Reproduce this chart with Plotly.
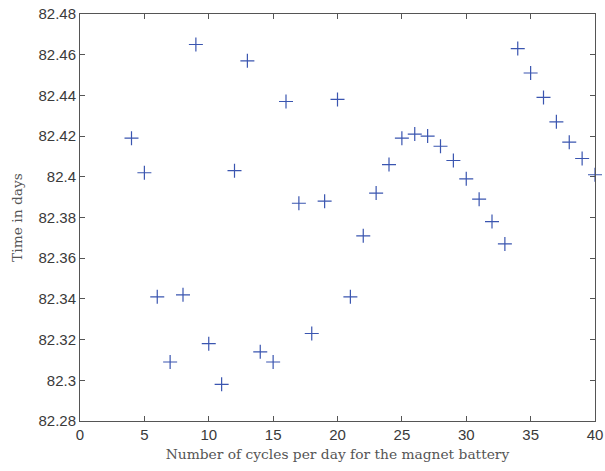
import plotly.graph_objects as go

cycles = list(range(4, 41))
days = [82.419, 82.402, 82.341, 82.309, 82.342, 82.465, 82.318, 82.298, 82.403, 82.457,
        82.314, 82.309, 82.437, 82.387, 82.323, 82.388, 82.438, 82.341, 82.371, 82.392,
        82.406, 82.419, 82.421, 82.420, 82.415, 82.408, 82.399, 82.389, 82.378, 82.367,
        82.463, 82.451, 82.439, 82.427, 82.417, 82.409, 82.401]

xticks = [0, 5, 10, 15, 20, 25, 30, 35, 40]
yticks = [82.28, 82.30, 82.32, 82.34, 82.36, 82.38, 82.40, 82.42, 82.44, 82.46, 82.48]
yticklabels = ["82.28", "82.3", "82.32", "82.34", "82.36", "82.38", "82.4", "82.42", "82.44", "82.46", "82.48"]

fig = go.Figure(go.Scatter(
    x=cycles, y=days, mode="markers",
    marker=dict(symbol="cross-thin", size=10, line=dict(width=1.2, color="#3a55b0"), color="#3a55b0"),
    cliponaxis=False,
))

axis_common = dict(showgrid=False, zeroline=False, showline=True, linecolor="#555555", linewidth=1,
                   mirror="ticks", ticks="inside", ticklen=5, tickcolor="#555555", automargin=False,
                   tickfont=dict(family="Liberation Sans, Arial, sans-serif", size=15, color="#3a3a3a"))

title_font = dict(family="DejaVu Serif, serif", size=13.8, color="#555555")

fig.update_xaxes(range=[0, 40], tickvals=xticks, ticktext=[str(t) for t in xticks],
                 title=dict(text="Number of cycles per day for the magnet battery", standoff=7, font=title_font),
                 **axis_common)
fig.update_yaxes(range=[82.28, 82.48], tickvals=yticks, ticktext=yticklabels,
                 title=dict(text="Time in days", standoff=12, font=title_font),
                 **axis_common)

fig.update_layout(width=605, height=471, margin=dict(l=80, r=10, t=14, b=50),
                  plot_bgcolor="white", paper_bgcolor="white", showlegend=False)

fig.write_html("out.html")
